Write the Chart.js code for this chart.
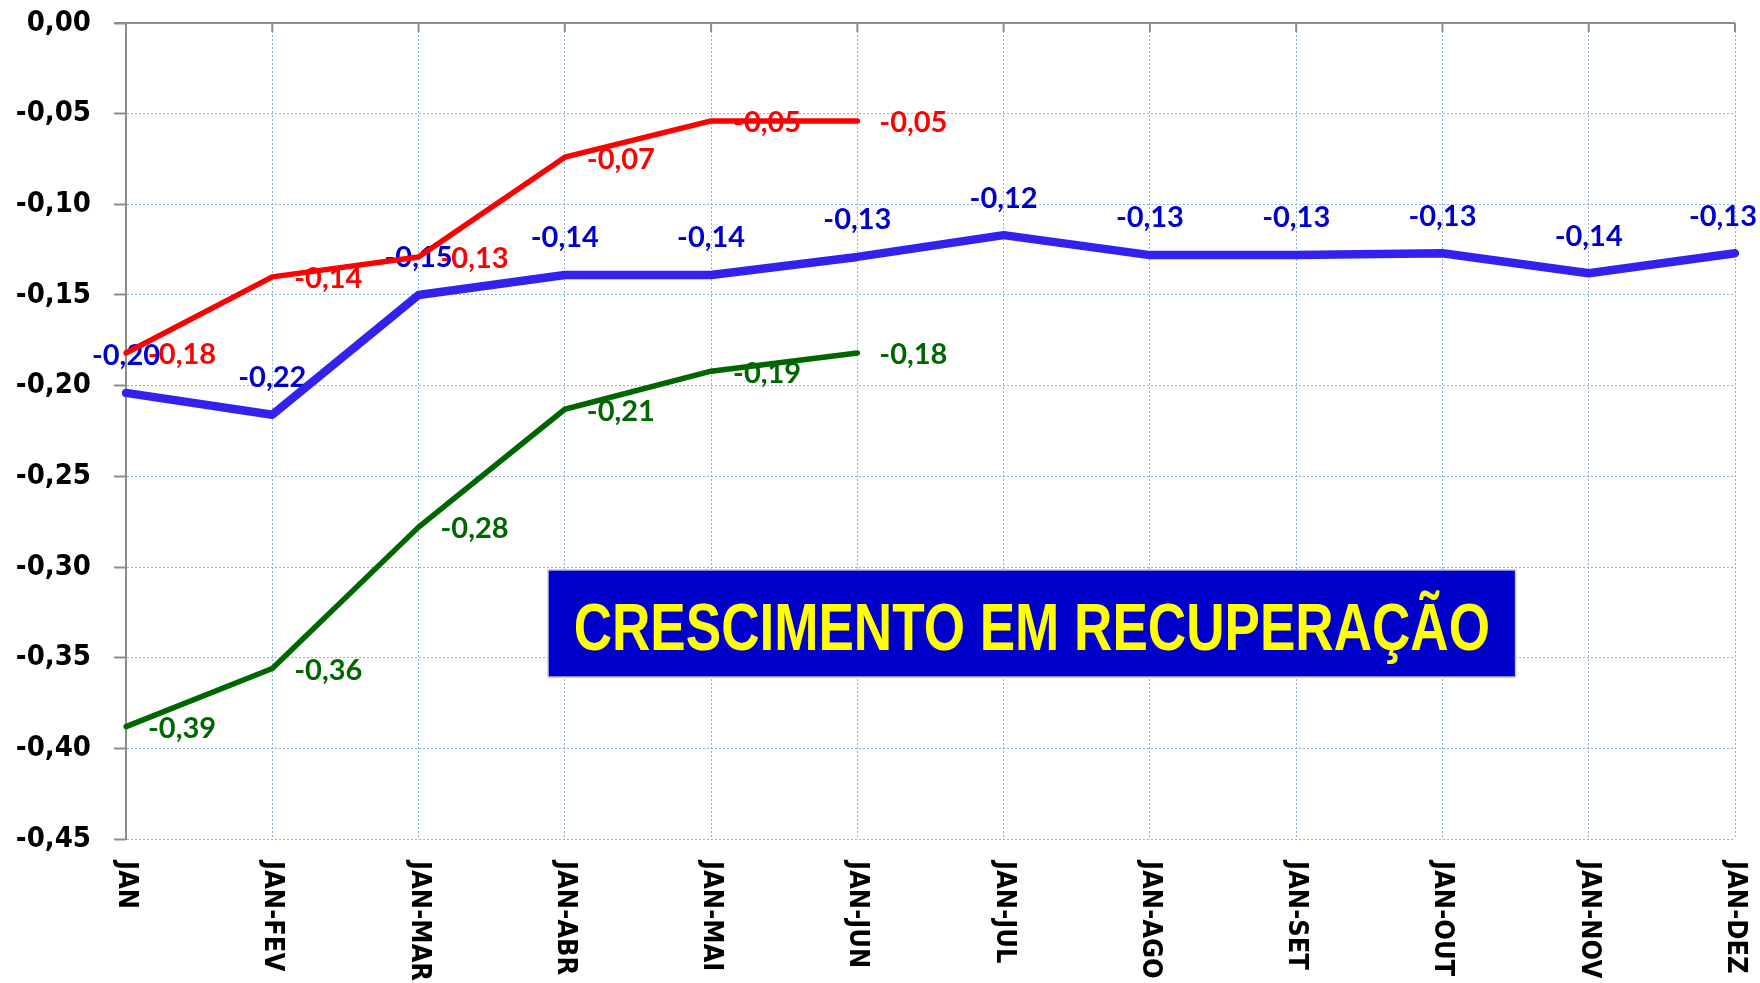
<!DOCTYPE html>
<html>
<head>
<meta charset="utf-8">
<script src="https://cdn.jsdelivr.net/npm/chart.js@4.4.1/dist/chart.umd.min.js"></script>
<style>
  body { margin: 0; background: #fff; }
  canvas { display: block; }
</style>
</head>
<body>
<canvas id="grafico" width="1760" height="983"></canvas>
<script>
// categorias (acumulado no ano)
const categorias = ["JAN", "JAN-FEV", "JAN-MAR", "JAN-ABR", "JAN-MAI", "JAN-JUN",
  "JAN-JUL", "JAN-AGO", "JAN-SET", "JAN-OUT", "JAN-NOV", "JAN-DEZ"];

// valores
const serieVermelha = [-0.182, -0.140, -0.129, -0.074, -0.054, -0.054, null, null, null, null, null, null];
const serieAzul = [-0.204, -0.216, -0.150, -0.139, -0.139, -0.129, -0.117, -0.128, -0.128, -0.127, -0.138, -0.127];
const serieVerde = [-0.388, -0.356, -0.278, -0.213, -0.192, -0.182, null, null, null, null, null, null];

// eixo y
const yMin = -0.45;
const yMax = 0;
const yPasso = 0.05;

const titulo = "CRESCIMENTO EM RECUPERAÇÃO";

const fmt = (v) => v.toFixed(2).replace(".", ",").replace("-0,00", "0,00");

// rotulos de dados (desenhados antes das linhas, como no original)
const rotulosPlugin = {
  id: "rotulos",
  beforeDatasetsDraw(chart) {
    const ctx = chart.ctx;
    // ordem: vermelho, verde, azul por cima
    [0, 2, 1].forEach((di) => {
      const ds = chart.data.datasets[di];
      const meta = chart.getDatasetMeta(di);
      ctx.save();
      ctx.font = "bold 29px Lato";
      ctx.fillStyle = ds.corRotulo;
      ctx.textBaseline = "middle";
      meta.data.forEach((pt, i) => {
        const v = ds.data[i];
        if (v === null || v === undefined) return;
        const txt = fmt(v);
        if (ds.posRotulo === "acima") {
          const w = ctx.measureText(txt).width;
          let x = pt.x;
          if (x + w / 2 > chart.width - 3) x = chart.width - 3 - w / 2;
          ctx.textAlign = "center";
          ctx.fillText(txt, x, pt.y - 37);
        } else {
          ctx.textAlign = "left";
          ctx.fillText(txt, pt.x + 22, pt.y + 2);
        }
      });
      ctx.restore();
    });
  },
};

// linha do eixo de categorias no topo + rotulos do eixo x + caixa de titulo
const eixoPlugin = {
  id: "eixo",
  beforeDatasetsDraw(chart) {
    const { ctx, chartArea } = chart;
    const xs = chart.scales.x;
    ctx.save();
    ctx.strokeStyle = "#8c8c8c";
    ctx.lineWidth = 2;
    ctx.beginPath();
    ctx.moveTo(chartArea.left - 12, chartArea.top);
    ctx.lineTo(chartArea.right, chartArea.top);
    categorias.forEach((c, i) => {
      const x = xs.getPixelForTick(i);
      ctx.moveTo(x, chartArea.top);
      ctx.lineTo(x, chartArea.top + 9);
    });
    ctx.stroke();
    ctx.restore();
  },
  afterDraw(chart) {
    const { ctx, chartArea } = chart;
    const xs = chart.scales.x;
    const ys = chart.scales.y;

    // rotulos do eixo x, girados 90 graus
    ctx.save();
    ctx.font = "bold 27px 'DejaVu Sans Condensed'";
    ctx.fillStyle = "#000";
    ctx.textAlign = "left";
    ctx.textBaseline = "middle";
    categorias.forEach((c, i) => {
      ctx.save();
      ctx.translate(xs.getPixelForTick(i), chartArea.bottom + 22);
      ctx.rotate(Math.PI / 2);
      ctx.fillText(c, 0, 0);
      ctx.restore();
    });
    ctx.restore();

    // caixa azul com o titulo
    const x1 = xs.getPixelForValue(2.885);
    const x2 = xs.getPixelForValue(9.5);
    const y1 = ys.getPixelForValue(-0.3016);
    const y2 = ys.getPixelForValue(-0.3607);
    ctx.save();
    ctx.fillStyle = "#0000cc";
    ctx.fillRect(x1, y1, x2 - x1, y2 - y1);
    ctx.strokeStyle = "#c8c8e0";
    ctx.lineWidth = 1.5;
    ctx.strokeRect(x1, y1, x2 - x1, y2 - y1);
    ctx.font = "bold 66px 'Liberation Sans'";
    const w = ctx.measureText(titulo).width;
    const alvo = (x2 - x1) * 0.947;
    ctx.translate((x1 + x2) / 2, y1 + (y2 - y1) * 0.745);
    ctx.scale(alvo / w, 1);
    ctx.fillStyle = "#ffff00";
    ctx.textAlign = "center";
    ctx.textBaseline = "alphabetic";
    ctx.fillText(titulo, 0, 0);
    ctx.restore();
  },
};

const ctx = document.getElementById("grafico").getContext("2d");
const grafico = new Chart(ctx, {
  type: "line",
  data: {
    labels: categorias,
    datasets: [
      {
        label: "vermelha",
        data: serieVermelha,
        borderColor: "#ff0000",
        borderWidth: 5.5,
        corRotulo: "#ff0000",
        posRotulo: "direita",
      },
      {
        label: "azul",
        data: serieAzul,
        borderColor: "#3322ee",
        borderWidth: 8.5,
        corRotulo: "#0000cc",
        posRotulo: "acima",
      },
      {
        label: "verde",
        data: serieVerde,
        borderColor: "#006600",
        borderWidth: 5.5,
        corRotulo: "#006600",
        posRotulo: "direita",
      },
    ],
  },
  options: {
    responsive: false,
    animation: false,
    devicePixelRatio: 1,
    spanGaps: false,
    elements: {
      point: { radius: 0 },
      line: { tension: 0, borderJoinStyle: "round", borderCapStyle: "round" },
    },
    layout: { padding: { top: 23, right: 25, left: 0, bottom: 0 } },
    plugins: {
      legend: { display: false },
      tooltip: { enabled: false },
    },
    scales: {
      x: {
        offset: false,
        ticks: { display: false },
        grid: { color: "#8db3e2", lineWidth: 1, drawTicks: false },
        border: { display: false, dash: [2, 2] },
        afterFit(s) {
          s.height = 144;
        },
      },
      y: {
        min: yMin,
        max: yMax,
        ticks: {
          stepSize: yPasso,
          padding: 23,
          color: "#000",
          font: { family: "'DejaVu Sans Condensed'", size: 29, weight: "bold" },
          callback: (v) => fmt(v),
        },
        grid: {
          color: "#8db3e2",
          lineWidth: 1,
          tickColor: "#8c8c8c",
          tickWidth: 2,
          tickLength: 12,
        },
        border: { display: true, color: "#8c8c8c", width: 2, dash: [2, 2] },
        afterFit(s) {
          s.width = 126;
          s.paddingTop = 0;
          s.paddingBottom = 0;
        },
      },
    },
  },
  plugins: [eixoPlugin, rotulosPlugin],
});
</script>
</body>
</html>
